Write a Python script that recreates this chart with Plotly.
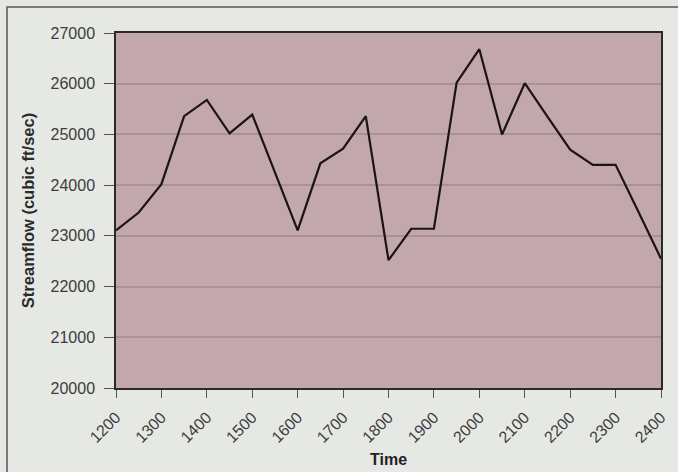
import plotly.graph_objects as go

years = [1200, 1250, 1300, 1350, 1400, 1450, 1500, 1550, 1600, 1650, 1700, 1750, 1800,
         1850, 1900, 1950, 2000, 2050, 2100, 2150, 2200, 2250, 2300, 2350, 2400]
streamflow = [23110, 23460, 24020, 25360, 25680, 25020, 25390, 24250, 23110, 24430, 24720,
              25360, 22520, 23140, 23140, 26020, 26680, 25000, 26010, 25350, 24700, 24400,
              24400, 23480, 22550]
x_ticks = list(range(1200, 2401, 100))
y_ticks = list(range(20000, 27001, 1000))

fig = go.Figure()
fig.add_trace(go.Scatter(x=years, y=streamflow, mode="lines",
                         line=dict(color="#1a1416", width=2.2), showlegend=False))

fig.update_layout(
    width=678, height=472,
    margin=dict(l=116, r=17, t=33, b=84, autoexpand=False),
    paper_bgcolor="#e6e8e4",
    plot_bgcolor="#c2a7ac",
    font=dict(family="Liberation Sans, Arial, sans-serif", color="#3c3c3c", size=16),
    xaxis=dict(range=[1200, 2400], tickvals=x_ticks, ticktext=[str(v) for v in x_ticks],
               tickangle=-45, ticks="outside", ticklen=8, tickcolor="#555",
               ticklabelstandoff=4,
               showgrid=False, showline=True, linecolor="#2a2a2a", linewidth=1.5,
               mirror=True, zeroline=False, tickfont=dict(size=16),
               title=dict(text="<b>Time</b>", font=dict(size=16, color="#222"), standoff=9)),
    yaxis=dict(range=[20000, 27000], tickvals=y_ticks, ticktext=[str(v) for v in y_ticks],
               ticks="outside", ticklen=10, ticklabelstandoff=6,
               tickcolor="#555", showgrid=True, gridcolor="#ab9197", gridwidth=1.5,
               showline=True, linecolor="#2a2a2a", linewidth=1.5, mirror=True,
               zeroline=False, tickfont=dict(size=16),
               title=dict(text="<b>Streamflow (cubic ft/sec)</b>", font=dict(size=16.5, color="#2a2a2a"),
                          standoff=12)),
)
fig.add_shape(type="rect", xref="paper", yref="paper",
              x0=-0.2, x1=1.1, y0=-0.4, y1=1.073,
              line=dict(color="#555", width=1.5), fillcolor="rgba(0,0,0,0)", layer="below")

fig.write_html("out.html", config={"displayModeBar": False},
               post_script="document.body.style.margin='0';document.body.style.background='#e6e8e4';")
